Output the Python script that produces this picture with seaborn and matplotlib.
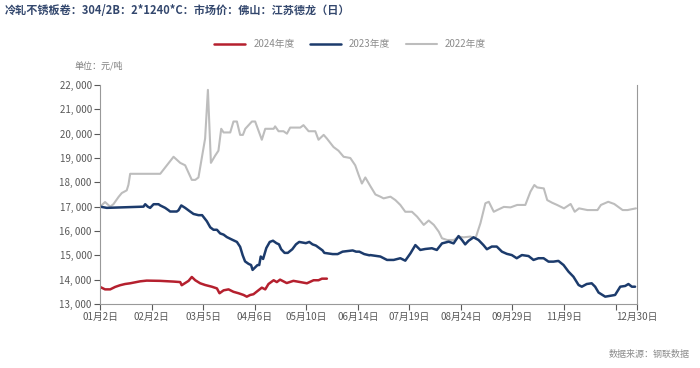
import pandas as pd
import matplotlib
matplotlib.use("Agg")
import matplotlib.pyplot as plt
import seaborn as sns

# x position = trading-day index from 01-02
x_2022 = [0, 2.3, 4.7, 6.2, 8.6, 10.1, 12.4, 13.2, 14.0, 28.0, 34.2, 37.3, 39.6, 42.7, 44.3,
          45.8, 48.9, 50.2, 51.6, 53.6, 55.1, 56.4, 57.5, 60.6, 62.1, 63.7, 65.2, 66.5, 67.6,
          70.7, 72.2, 75.3, 76.9, 80.8, 81.5, 83.1, 85.4, 87.0, 88.5, 93.2, 94.7, 97.1, 100.2,
          101.7, 104.1, 105.6, 108.7, 111.0, 113.4, 116.5, 118.8, 120.4, 121.9, 123.5, 125.8,
          128.2, 130.5, 132.0, 135.2, 137.5, 139.8, 142.1, 145.2, 147.6, 150.7, 153.0, 155.4,
          157.7, 159.2, 161.6, 164.7, 167.0, 169.3, 172.4, 174.8, 177.1, 179.4, 181.0, 183.3,
          184.9, 188.0, 191.1, 194.2, 198.0, 200.4, 202.2, 203.5, 206.6, 208.2, 210.5, 212.8,
          216.0, 219.1, 221.0, 223.0, 226.9, 231.6, 233.2, 236.6, 239.4, 243.3, 245.6, 249.5]
y_2022 = [17000, 17190, 17000, 17100, 17400, 17560, 17670, 17900, 18350, 18350, 19050, 18800,
          18700, 18100, 18100, 18200, 19800, 21800, 18800, 19100, 19300, 20200, 20050, 20050,
          20500, 20500, 19950, 19950, 20200, 20500, 20500, 19750, 20200, 20200, 20300, 20100,
          20100, 20000, 20250, 20250, 20350, 20100, 20100, 19750, 19950, 19800, 19450, 19300,
          19050, 19000, 18700, 18300, 17950, 18200, 17850, 17500, 17410, 17340, 17410, 17270,
          17070, 16790, 16790, 16590, 16250, 16430, 16250, 15970, 15700, 15630, 15630, 15770,
          15740, 15770, 15700, 16320, 17140, 17200, 16790, 16860, 16990, 16970, 17070, 17070,
          17620, 17890, 17790, 17750, 17270, 17160, 17070, 16930, 17110, 16790, 16930, 16860,
          16860, 17070, 17200, 17110, 16860, 16860, 16930]

x_2023 = [0, 3.1, 20.2, 21.0, 22.2, 23.3, 24.9, 27.2, 28.0, 30.3, 31.9, 32.6, 35.7, 36.5, 37.8,
          39.6, 41.9, 43.5, 45.8, 47.5, 49.7, 51.3, 52.8, 54.4, 55.9, 57.5, 59.0, 61.3, 63.7,
          65.2, 66.4, 67.5, 69.1, 70.3, 71.0, 73.3, 74.1, 74.8, 75.9, 77.4, 79.0, 80.5, 82.1,
          83.3, 84.3, 85.9, 87.4, 89.5, 91.2, 92.7, 95.8, 97.4, 98.9, 100.5, 103.6, 104.4, 108.3,
          110.6, 112.9, 117.6, 119.2, 120.7, 123.0, 125.4, 125.8, 130.5, 133.6, 136.7, 139.8,
          142.1, 144.5, 146.8, 149.1, 151.4, 154.5, 156.8, 159.2, 162.3, 164.6, 166.9, 168.5,
          170.0, 171.6, 173.9, 176.2, 178.5, 180.1, 182.4, 184.7, 187.1, 189.4, 191.7, 194.0,
          196.4, 199.5, 201.8, 204.1, 206.5, 208.8, 211.1, 213.4, 215.8, 218.1, 220.4, 222.8,
          224.3, 226.6, 228.9, 230.5, 232.1, 235.2, 239.8, 242.2, 244.5, 246.0, 247.6, 249.1]
y_2023 = [17000, 16950, 17000, 17100, 17000, 16950, 17100, 17100, 17050, 16950, 16850, 16800,
          16800, 16850, 17050, 16950, 16800, 16700, 16650, 16650, 16400, 16150, 16050, 16050,
          15900, 15850, 15750, 15650, 15550, 15350, 15000, 14750, 14650, 14600, 14400, 14600,
          14600, 14950, 14850, 15300, 15550, 15600, 15500, 15450, 15250, 15100, 15100, 15250,
          15450, 15550, 15500, 15550, 15450, 15400, 15200, 15100, 15050, 15050, 15150, 15200,
          15150, 15150, 15050, 15000, 15010, 14950, 14810, 14810, 14880, 14780, 15080, 15420,
          15220, 15260, 15290, 15220, 15490, 15560, 15490, 15790, 15630, 15450, 15600, 15740,
          15630, 15420, 15250, 15360, 15360, 15150, 15060, 15010, 14880, 15010, 14970, 14810,
          14880, 14880, 14740, 14740, 14770, 14600, 14330, 14120, 13780, 13710, 13820, 13850,
          13710, 13470, 13300, 13370, 13710, 13740, 13820, 13710, 13710]

x_2024 = [0, 2.3, 4.7, 7.0, 9.3, 11.6, 14.0, 16.3, 18.6, 21.7, 27.9, 34.2, 37.3, 38.0, 39.6,
          41.2, 42.7, 44.3, 46.6, 48.9, 52.0, 54.4, 55.6, 57.5, 59.8, 62.1, 64.5, 66.8, 68.3,
          69.9, 71.4, 73.7, 75.3, 76.9, 78.4, 80.8, 82.3, 83.8, 86.9, 90.0, 93.2, 96.3, 99.4,
          101.7, 103.3, 105.6]
y_2024 = [13700, 13600, 13600, 13700, 13770, 13820, 13850, 13890, 13930, 13960, 13950, 13920,
          13900, 13770, 13860, 13950, 14110, 13975, 13850, 13780, 13710, 13640, 13440, 13560,
          13600, 13500, 13440, 13370, 13300, 13370, 13400, 13560, 13670, 13600, 13820, 13975,
          13900, 14000, 13860, 13950, 13900, 13850, 13975, 13975, 14040, 14040]

tick_pos = [0, 24, 48, 72, 96, 120, 144, 168, 192, 216, 240, 250]
tick_labels = ["01月2日", "02月2日", "03月5日", "04月6日", "05月10日", "06月14日", "07月19日",
               "08月24日", "09月29日", "11月9日", "", "12月30日"]

series = ["2022年度", "2023年度", "2024年度"]
colors = {"2024年度": "#b5202e", "2023年度": "#1c3b6c", "2022年度": "#bdbdbd"}

df = pd.concat([
    pd.DataFrame({"idx": x_2022, "price": y_2022, "year": "2022年度"}),
    pd.DataFrame({"idx": x_2023, "price": y_2023, "year": "2023年度"}),
    pd.DataFrame({"idx": x_2024, "price": y_2024, "year": "2024年度"}),
])

sns.set_theme(style="white")
plt.rcParams["font.family"] = ["Noto Sans CJK SC", "DejaVu Sans"]

fig = plt.figure(figsize=(7, 3.68), dpi=100)
ax = fig.add_axes([0.143, 0.174, 0.767, 0.595])

for name in series:
    sub = df[df.year == name]
    sns.lineplot(data=sub, x="idx", y="price", color=colors[name], estimator=None, sort=False,
                 linewidth=1.8 if name != "2022年度" else 1.5, ax=ax, label=name, legend=False)

ax.set_xlim(0, 250)
ax.set_ylim(13000, 22000)
ax.set_yticks(range(13000, 22001, 1000))
ax.set_yticklabels([f"{v:,}".replace(",", ", ") for v in range(13000, 22001, 1000)])
ax.set_xticks(tick_pos)
ax.set_xticklabels(tick_labels)
ax.set_xlabel("")
ax.set_ylabel("")
ax.tick_params(axis="both", labelsize=7, colors="#595959", length=4, width=0.8,
               direction="out", pad=2)
ax.tick_params(axis="x", labelcolor="#595959")
ax.tick_params(axis="y", left=True)
ax.tick_params(axis="x", bottom=True)
for side in ["left", "bottom", "right"]:
    ax.spines[side].set_color("#999999")
    ax.spines[side].set_linewidth(0.8)
ax.spines["top"].set_visible(False)

# legend above the plot, in 2024 / 2023 / 2022 order
handles = {l.get_label(): l for l in ax.get_lines()}
fig.legend([handles[n] for n in ["2024年度", "2023年度", "2022年度"]],
           ["2024年度", "2023年度", "2022年度"], loc="center", bbox_to_anchor=(0.5, 0.88),
           ncol=3, frameon=False, fontsize=7, handlelength=3.2, columnspacing=1.6,
           labelcolor="#8c8c8c")

fig.text(0.007, 0.972, "冷轧不锈板卷：304/2B：2*1240*C：市场价：佛山：江苏德龙（日）",
         fontsize=8, fontweight="bold", color="#34486e", va="center", ha="left")
fig.text(0.107, 0.82, "单位：元/吨", fontsize=6.5, color="#7f7f7f", va="center", ha="left")
fig.text(0.985, 0.038, "数据来源：钢联数据", fontsize=6.5, color="#8c8c8c", va="center", ha="right")

fig.savefig("out.png", dpi=100)
